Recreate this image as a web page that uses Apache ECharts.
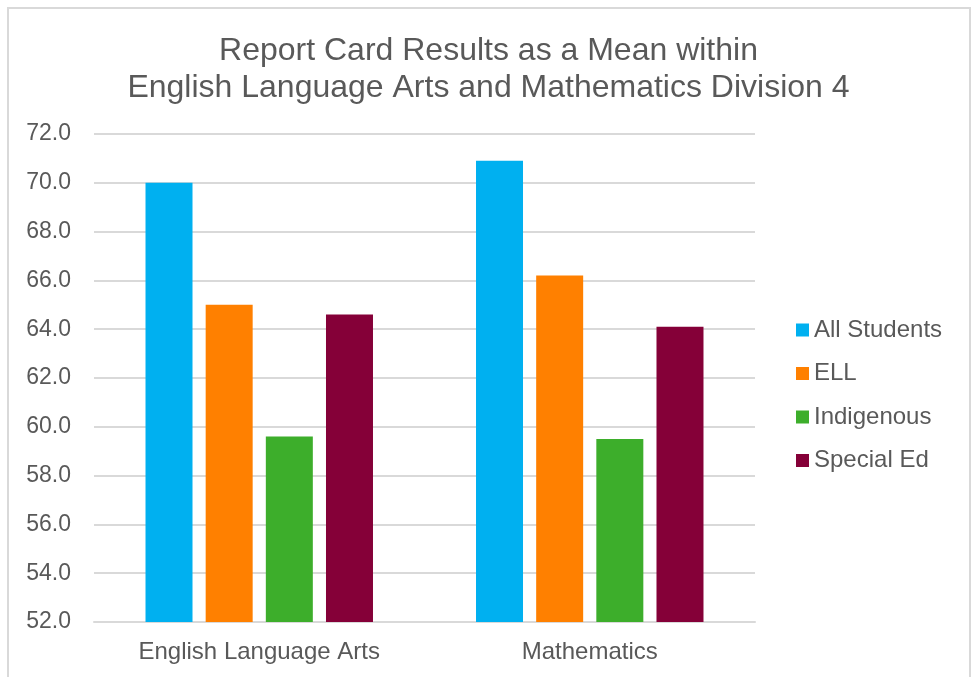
<!DOCTYPE html>
<html>
<head>
<meta charset="utf-8">
<script src="https://cdn.jsdelivr.net/npm/echarts@6/dist/echarts.min.js"></script>
<style>
  html, body { margin: 0; padding: 0; background: #fff; overflow: hidden; }
  #frame { position: absolute; left: 7px; top: 7px; width: 964px; height: 700px; border: 2px solid #d9d9d9; box-sizing: border-box; }
  #chart { position: absolute; left: 0; top: 0; width: 977px; height: 677px; }
</style>
</head>
<body>
<div id="frame"></div>
<div id="chart"></div>
<script>
const categories = ["English Language Arts", "Mathematics"]
const seriesNames = ["All Students", "ELL", "Indigenous", "Special Ed"]
const allStudents = [70.0, 70.9]
const ell = [65.0, 66.2]
const indigenous = [59.6, 59.5]
const specialEd = [64.6, 64.1]
const colors = ["#00b0f0", "#ff8000", "#3dae2b", "#850038"]

const font = "'Liberation Sans', Arial, sans-serif"
const textColor = "#595959"

const myChart = echarts.init(document.getElementById("chart"))

const values = [allStudents, ell, indigenous, specialEd]

myChart.setOption({
  animation: false,
  color: colors,
  title: {
    text: "Report Card Results as a Mean within\nEnglish Language Arts and Mathematics Division 4",
    left: "center",
    top: 28,
    textStyle: { color: textColor, fontSize: 32, fontWeight: "normal", fontFamily: font, lineHeight: 37 }
  },
  legend: {
    orient: "vertical",
    left: 791,
    top: 313,
    itemWidth: 13,
    itemHeight: 13,
    itemGap: 19.5,
    icon: "rect",
    textStyle: { color: textColor, fontSize: 24, fontFamily: font, lineHeight: 23 },
    data: seriesNames
  },
  grid: {
    left: 94,
    right: 222,
    top: 134,
    bottom: 55
  },
  xAxis: {
    type: "category",
    data: categories,
    axisLine: { lineStyle: { color: "#d9d9d9", width: 2 } },
    axisTick: { show: false },
    axisLabel: { color: textColor, fontSize: 24, fontFamily: font, margin: 18 }
  },
  yAxis: {
    type: "value",
    min: 52,
    max: 72,
    interval: 2,
    axisLine: { show: false },
    axisTick: { show: false },
    splitLine: { lineStyle: { color: "#d9d9d9", width: 2 } },
    axisLabel: {
      color: textColor,
      fontSize: 23,
      fontFamily: font,
      margin: 23,
      formatter: (v) => v.toFixed(1)
    }
  },
  series: seriesNames.map((name, i) => ({
    name: name,
    type: "bar",
    data: values[i],
    barWidth: 47,
    barGap: "28%",
    itemStyle: { color: colors[i] }
  }))
})
</script>
</body>
</html>
